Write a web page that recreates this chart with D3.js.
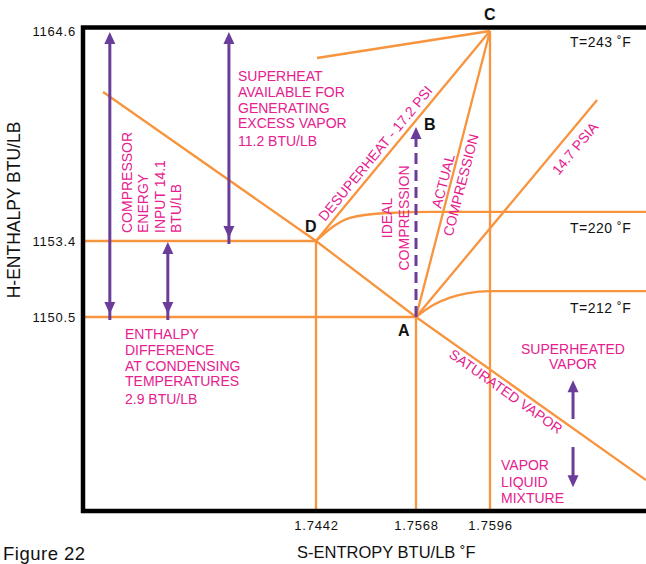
<!DOCTYPE html>
<html>
<head>
<meta charset="utf-8">
<script src="https://cdn.jsdelivr.net/npm/d3@7"></script>
<style>
  body { margin: 0; background: #fff; }
  svg { display: block; font-family: "Liberation Sans", Arial, Helvetica, sans-serif; }
  .note { fill: #e6208e; font-size: 14px; }
  .blk { fill: #111; font-size: 14px; letter-spacing: 0.5px; }
  .pt { fill: #111; font-size: 16px; font-weight: bold; }
</style>
</head>
<body>
<div class="chart"></div>
<script>
(function() {
  'use strict';

  // axis ticks (entropy / enthalpy)
  var xTicks = [1.7442, 1.7568, 1.7596];
  var yTicks = [1150.5, 1153.4, 1164.6];

  // cycle points
  var pointNames = ["A", "B", "C", "D"];
  var pointS = [1.7568, 1.7568, 1.7596, 1.7442];
  var pointH = [1150.5, 1159.53, 1164.6, 1153.4];

  // saturated vapor line
  var satS = [1.7174, 1.7442, 1.7568, 1.7655];
  var satH = [1161.35, 1153.4, 1150.5, 1144.28];

  // isotherms leaving the saturation line
  var t212S = [1.7568, 1.75745, 1.75809, 1.75872, 1.7596, 1.7655];
  var t212H = [1150.5, 1150.96, 1151.24, 1151.40, 1151.49, 1151.49];
  var t220S = [1.7442, 1.74634, 1.74848, 1.75264, 1.75744, 1.7655];
  var t220H = [1153.4, 1154.16, 1154.63, 1154.88, 1154.95, 1154.95];
  var t243S = [1.74433, 1.7596];
  var t243H = [1163.16, 1164.6];

  // 14.7 psia line
  var psiaS = [1.7568, 1.76365];
  var psiaH = [1150.5, 1160.92];

  // arrows: entropy position, start and end enthalpy
  var arrowS = [1.71825, 1.73324, 1.72555, 1.7568, 1.76274, 1.76274];
  var arrowFrom = [1150.5, 1153.4, 1150.5, 1150.5, 1146.61, 1145.54];
  var arrowTo = [1164.6, 1164.6, 1153.4, 1159.53, 1148.13, 1143.97];
  var arrowBoth = [true, true, true, false, false, false];
  var arrowDash = [false, false, false, true, false, false];

  var width = 646, height = 564;
  var orange = "#f7943d", purple = "#6a3d9a";

  var svg = d3.select(".chart").append("svg")
    .attr("width", width)
    .attr("height", height);

  // schematic chart: scales are piecewise between the marked values
  var x = d3.scaleLinear()
    .domain([1.715, 1.7442, 1.7568, 1.7596, 1.7655])
    .range([84, 316, 416, 490, 646]);
  var y = d3.scaleLinear()
    .domain([1143.1, 1150.5, 1153.4, 1164.6])
    .range([511, 317, 241, 31]);

  var xMin = x.domain()[0], xMax = x.domain()[4];
  var yMin = y.domain()[0];

  function pt(i) { return [pointS[i], pointH[i]]; }
  var A = pt(0), B = pt(1), C = pt(2), D = pt(3);

  function zip(s, h) { return s.map(function(v, i) { return [v, h[i]]; }); }

  var line = d3.line()
    .x(function(d) { return x(d[0]); })
    .y(function(d) { return y(d[1]); });
  var curve = d3.line()
    .curve(d3.curveMonotoneX)
    .x(function(d) { return x(d[0]); })
    .y(function(d) { return y(d[1]); });

  var orangeLines = [
    [[xMin, A[1]], A],
    [[xMin, D[1]], D],
    [D, [D[0], yMin]],
    [A, [A[0], yMin]],
    [C, [C[0], yMin]],
    zip(satS, satH),
    zip(t243S, t243H),
    [D, C],
    [A, C],
    zip(psiaS, psiaH)
  ];

  var g = svg.append("g");
  g.selectAll(".ln")
    .data(orangeLines)
    .enter().append("path")
    .attr("class", "ln")
    .attr("d", line)
    .attr("fill", "none")
    .attr("stroke", orange)
    .attr("stroke-width", 2.3);

  g.selectAll(".iso")
    .data([zip(t212S, t212H), zip(t220S, t220H)])
    .enter().append("path")
    .attr("class", "iso")
    .attr("d", curve)
    .attr("fill", "none")
    .attr("stroke", orange)
    .attr("stroke-width", 2.3);

  // arrows
  var headLen = 12, headW = 5.5;
  function head(xp, yTip, dir) {
    // dir = -1 pointing up, +1 pointing down
    var yb = yTip - dir * headLen;
    return "M" + xp + "," + yTip + "L" + (xp - headW) + "," + yb + "L" + (xp + headW) + "," + yb + "Z";
  }
  arrowS.forEach(function(s, i) {
    var xp = x(s);
    var y0 = y(arrowFrom[i]), y1 = y(arrowTo[i]);
    var dir = y1 < y0 ? -1 : 1;
    var tip1 = y1 - dir * 1;
    var tip0 = arrowBoth[i] ? y0 + dir * 3 : y0;
    g.append("line")
      .attr("x1", xp).attr("x2", xp)
      .attr("y1", arrowBoth[i] ? tip0 - dir * headLen * 0.5 : tip0)
      .attr("y2", tip1 - dir * headLen * 0.5)
      .attr("stroke", purple)
      .attr("stroke-width", 3)
      .attr("stroke-dasharray", arrowDash[i] ? "11,6" : null);
    g.append("path").attr("d", head(xp, tip1, dir)).attr("fill", purple);
    if (arrowBoth[i]) g.append("path").attr("d", head(xp, tip0, -dir)).attr("fill", purple);
  });

  // frame
  svg.append("path")
    .attr("d", "M" + width + ",27.5H83V511H" + width)
    .attr("fill", "none")
    .attr("stroke", "#000")
    .attr("stroke-width", 4.5);

  // axes (labels only)
  var yAxis = svg.append("g")
    .attr("transform", "translate(83,0)")
    .call(d3.axisLeft(y).tickValues(yTicks).tickSize(0).tickPadding(7).tickFormat(d3.format(".1f")));
  var xAxis = svg.append("g")
    .attr("transform", "translate(0,511)")
    .call(d3.axisBottom(x).tickValues(xTicks).tickSize(0).tickPadding(10).tickFormat(d3.format(".4f")));
  [yAxis, xAxis].forEach(function(ax) {
    ax.select(".domain").remove();
    ax.selectAll("text")
      .attr("fill", "#111")
      .style("font-family", "Liberation Sans, Arial, sans-serif")
      .style("font-size", "13px")
      .style("letter-spacing", "0.8px");
  });

  svg.append("text")
    .attr("transform", "translate(20,210) rotate(-90)")
    .attr("text-anchor", "middle")
    .style("font-size", "17.5px")
    .attr("fill", "#111")
    .text("H-ENTHALPY BTU/LB");
  svg.append("text")
    .attr("x", 297).attr("y", 558)
    .style("font-size", "16.5px")
    .attr("fill", "#111")
    .text("S-ENTROPY BTU/LB ˚F");
  svg.append("text")
    .attr("x", 3).attr("y", 560)
    .style("font-size", "18.5px")
    .style("letter-spacing", "0.5px")
    .attr("fill", "#111")
    .text("Figure 22");

  // point labels
  var ptOffset = [[-18, 19], [8, 4], [-6, -11], [-11, -9]];
  pointNames.forEach(function(n, i) {
    svg.append("text").attr("class", "pt")
      .attr("x", x(pointS[i]) + ptOffset[i][0])
      .attr("y", y(pointH[i]) + ptOffset[i][1])
      .text(n);
  });

  // temperature labels
  [["T=243 ˚F", 47], ["T=220 ˚F", 233], ["T=212 ˚F", 313]].forEach(function(t) {
    svg.append("text").attr("class", "blk")
      .attr("x", 570).attr("y", t[1]).text(t[0]);
  });

  function block(lines, xp, ys, anchor, transform) {
    var t = svg.append("text").attr("class", "note")
      .attr("text-anchor", anchor || "start");
    if (transform) t.attr("transform", transform);
    lines.forEach(function(l, i) {
      t.append("tspan").attr("x", xp).attr("y", ys[i]).text(l);
    });
  }

  block(["SUPERHEAT", "AVAILABLE FOR", "GENERATING", "EXCESS VAPOR", "11.2 BTU/LB"],
    238, [81, 97, 112.5, 128, 146]);
  block(["ENTHALPY", "DIFFERENCE", "AT CONDENSING", "TEMPERATURES", "2.9 BTU/LB"],
    125, [339, 355, 370.5, 385.5, 404]);
  block(["SUPERHEATED", "VAPOR"], 573, [354, 369], "middle");
  block(["VAPOR", "LIQUID", "MIXTURE"], 501, [470, 486.5, 502.5]);

  // rotated notes
  block(["COMPRESSOR", "ENERGY", "INPUT 14.1", "BTU/LB"],
    -233, [131.5, 148, 164.5, 180.5], "start", "rotate(-90)");
  block(["IDEAL", "COMPRESSION"], -218, [392, 408.5], "middle", "rotate(-90)");

  svg.append("text").attr("class", "note")
    .attr("transform", "translate(325,222) rotate(-50.4)")
    .text("DESUPERHEAT - 17.2 PSI");
  svg.append("text").attr("class", "note")
    .attr("text-anchor", "middle")
    .attr("transform", "translate(448,182.3) rotate(-75.5)")
    .text("ACTUAL");
  svg.append("text").attr("class", "note")
    .attr("text-anchor", "middle")
    .attr("transform", "translate(465.6,186.2) rotate(-75.5)")
    .text("COMPRESSION");
  svg.append("text").attr("class", "note")
    .attr("text-anchor", "middle")
    .attr("transform", "translate(578.8,151.5) rotate(-50.2)")
    .text("14.7 PSIA");
  svg.append("text").attr("class", "note")
    .attr("text-anchor", "middle")
    .attr("transform", "translate(503,395.4) rotate(35.3)")
    .text("SATURATED VAPOR");
})();
</script>
</body>
</html>
